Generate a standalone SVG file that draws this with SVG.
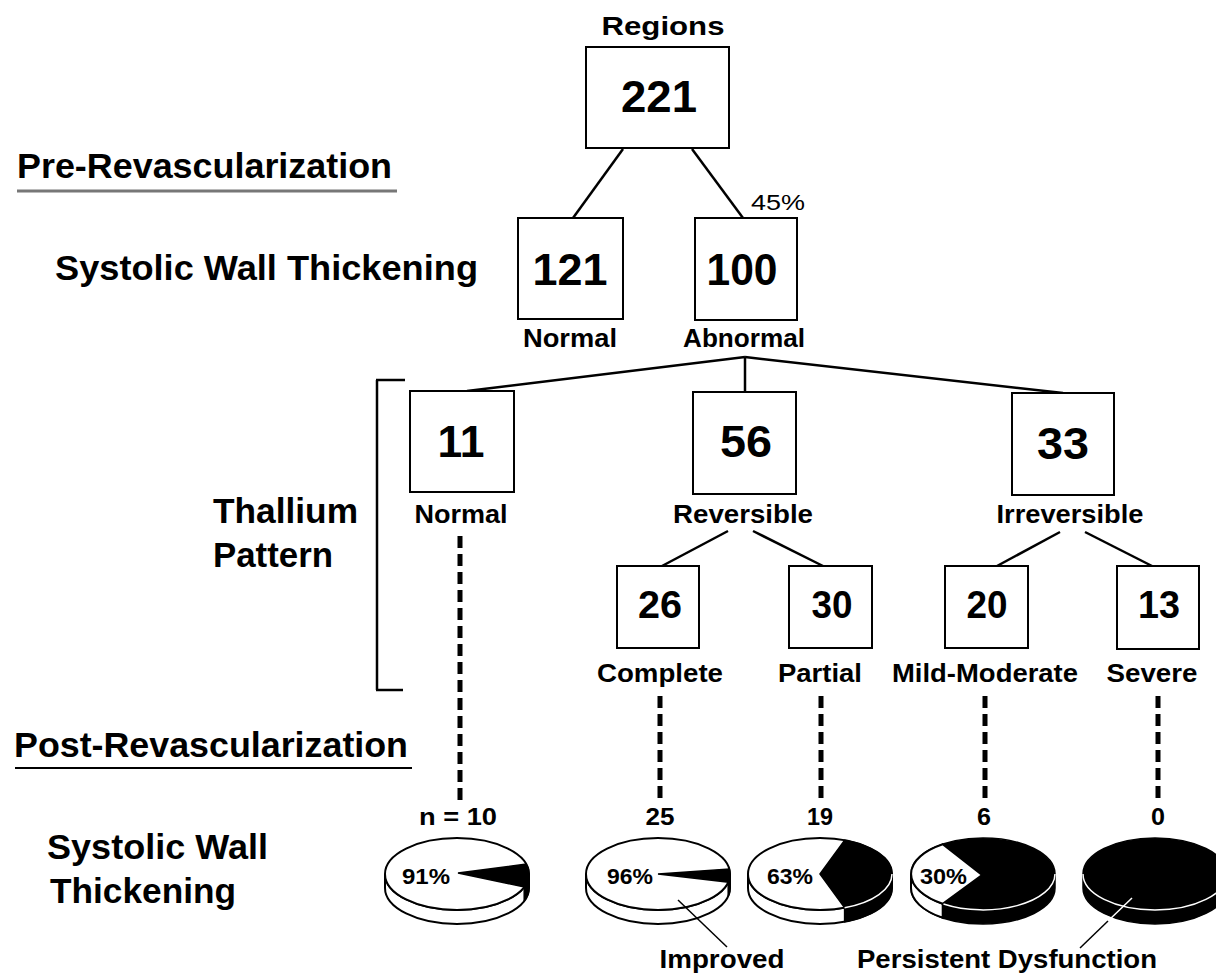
<svg xmlns="http://www.w3.org/2000/svg" width="1216" height="979" viewBox="0 0 1216 979">
<style>
.t{font-family:"Liberation Sans",Arial,Helvetica,sans-serif;font-weight:bold;fill:#000}
.n{font-family:"Liberation Sans",Arial,Helvetica,sans-serif;font-weight:normal;fill:#000}
.m{text-anchor:middle}
.big{font-size:44px}
.sm{font-size:38px}
.lab{font-size:25px}
.head{font-size:35px}
.cnt{font-size:23px}
.pct{font-size:22px}
.box{fill:#fff;stroke:#000;stroke-width:2}
.ln{stroke:#000;stroke-width:2.5;fill:none}
.dash{stroke:#000;stroke-width:5;stroke-dasharray:12 6;fill:none}
.pw{fill:#fff;stroke:#000;stroke-width:2}
.pb{fill:#000;stroke:#000;stroke-width:1.5}
.edge{fill:none;stroke:#fff;stroke-width:1.5}
</style>
<rect width="1216" height="979" fill="#fff"/>

<g id="section-labels">
<text class="t head" x="17" y="178" textLength="375" lengthAdjust="spacingAndGlyphs">Pre-Revascularization</text>
<line x1="17" y1="191" x2="397" y2="191" stroke="#777" stroke-width="3"/>
<text class="t head" x="55" y="280" textLength="423" lengthAdjust="spacingAndGlyphs">Systolic Wall Thickening</text>
<text class="t head" x="213" y="523" textLength="145" lengthAdjust="spacingAndGlyphs">Thallium</text>
<text class="t head" x="213" y="567" textLength="120" lengthAdjust="spacingAndGlyphs">Pattern</text>
<line x1="377" y1="380" x2="377" y2="690" class="ln" stroke-width="2"/>
<line x1="376" y1="380" x2="405" y2="380" class="ln" stroke-width="2"/>
<line x1="376" y1="690" x2="403" y2="690" class="ln" stroke-width="2"/>
<text class="t head" x="14" y="757" textLength="394" lengthAdjust="spacingAndGlyphs">Post-Revascularization</text>
<line x1="15" y1="768" x2="412" y2="768" stroke="#000" stroke-width="2"/>
<text class="t head" x="47" y="859" textLength="221" lengthAdjust="spacingAndGlyphs">Systolic Wall</text>
<text class="t head" x="50" y="903" textLength="186" lengthAdjust="spacingAndGlyphs">Thickening</text>
</g>

<g id="connectors">
<line class="ln" x1="623" y1="149" x2="573" y2="218"/>
<line class="ln" x1="692" y1="149" x2="743" y2="218"/>
<line class="ln" x1="745" y1="357" x2="467" y2="391"/>
<line class="ln" x1="745" y1="357" x2="745" y2="392"/>
<line class="ln" x1="745" y1="357" x2="1063" y2="393"/>
<line class="ln" x1="728" y1="531" x2="662" y2="566"/>
<line class="ln" x1="753" y1="531" x2="823" y2="566"/>
<line class="ln" x1="1060" y1="532" x2="997" y2="566"/>
<line class="ln" x1="1085" y1="532" x2="1152" y2="566"/>
<line class="dash" x1="460" y1="536" x2="460" y2="800"/>
<line class="dash" x1="660" y1="696" x2="660" y2="800"/>
<line class="dash" x1="821" y1="696" x2="821" y2="800"/>
<line class="dash" x1="985" y1="696" x2="985" y2="800"/>
<line class="dash" x1="1158" y1="696" x2="1158" y2="800"/>
</g>

<g id="n221">
<text class="t m" x="663" y="35" font-size="25" textLength="123" lengthAdjust="spacingAndGlyphs">Regions</text>
<rect class="box" x="586" y="47" width="143" height="101"/>
<text class="t m big" x="659" y="112" textLength="76" lengthAdjust="spacingAndGlyphs">221</text>
</g>
<g id="n121">
<rect class="box" x="518" y="218" width="105" height="101"/>
<text class="t m big" x="570" y="285" textLength="75" lengthAdjust="spacingAndGlyphs">121</text>
<text class="t m lab" x="570" y="347" textLength="94" lengthAdjust="spacingAndGlyphs">Normal</text>
</g>
<g id="n100">
<text class="n" x="751" y="210" font-size="22" textLength="54" lengthAdjust="spacingAndGlyphs">45%</text>
<rect class="box" x="695" y="218" width="102" height="102"/>
<text class="t m big" x="742" y="285" textLength="71" lengthAdjust="spacingAndGlyphs">100</text>
<text class="t m lab" x="744" y="347" textLength="122" lengthAdjust="spacingAndGlyphs">Abnormal</text>
</g>
<g id="n11">
<rect class="box" x="410" y="391" width="104" height="101"/>
<text class="t m big" x="461" y="457" textLength="47" lengthAdjust="spacingAndGlyphs">11</text>
<text class="t m lab" x="461" y="523" textLength="93" lengthAdjust="spacingAndGlyphs">Normal</text>
</g>
<g id="n56">
<rect class="box" x="693" y="392" width="103" height="102"/>
<text class="t m big" x="746" y="457" textLength="52" lengthAdjust="spacingAndGlyphs">56</text>
<text class="t m lab" x="743" y="523" textLength="140" lengthAdjust="spacingAndGlyphs">Reversible</text>
</g>
<g id="n33">
<rect class="box" x="1012" y="393" width="102" height="102"/>
<text class="t m big" x="1063" y="459" textLength="52" lengthAdjust="spacingAndGlyphs">33</text>
<text class="t m lab" x="1070" y="523" textLength="147" lengthAdjust="spacingAndGlyphs">Irreversible</text>
</g>
<g id="n26">
<rect class="box" x="617" y="566" width="82" height="82"/>
<text class="t m sm" x="660" y="618" textLength="44" lengthAdjust="spacingAndGlyphs">26</text>
<text class="t m lab" x="660" y="682" textLength="126" lengthAdjust="spacingAndGlyphs">Complete</text>
</g>
<g id="n30">
<rect class="box" x="789" y="566" width="83" height="82"/>
<text class="t m sm" x="832" y="618" textLength="41" lengthAdjust="spacingAndGlyphs">30</text>
<text class="t m lab" x="820" y="682" textLength="84" lengthAdjust="spacingAndGlyphs">Partial</text>
</g>
<g id="n20">
<rect class="box" x="945" y="566" width="83" height="82"/>
<text class="t m sm" x="987" y="618" textLength="41" lengthAdjust="spacingAndGlyphs">20</text>
<text class="t m lab" x="985" y="682" textLength="186" lengthAdjust="spacingAndGlyphs">Mild-Moderate</text>
</g>
<g id="n13">
<rect class="box" x="1117" y="566" width="82" height="83"/>
<text class="t m sm" x="1159" y="618" textLength="42" lengthAdjust="spacingAndGlyphs">13</text>
<text class="t m lab" x="1152" y="682" textLength="91" lengthAdjust="spacingAndGlyphs">Severe</text>
</g>

<g id="pie1">
<text class="t m cnt" x="458" y="825" textLength="78" lengthAdjust="spacingAndGlyphs">n = 10</text>
<path class="pw" d="M385,874 L385,888 A72 36 0 0 0 529,888 L529,874 A72 36 0 0 1 385,874 Z"/>
<ellipse class="pw" cx="457" cy="874" rx="72" ry="36"/>
<path class="pb" d="M458,873 L526.2,864.1 A72 36 0 0 1 524.2,886.9 Z"/>
<path class="pb" d="M529,874 L529,888 A72 36 0 0 1 524.2,900.9 L524.2,886.9 A72 36 0 0 0 529,874 Z"/>
<text class="t pct" x="402" y="884" textLength="48" lengthAdjust="spacingAndGlyphs">91%</text>
</g>
<g id="pie2">
<text class="t m cnt" x="660" y="825" textLength="29" lengthAdjust="spacingAndGlyphs">25</text>
<path class="pw" d="M586,874 L586,888 A72 36 0 0 0 730,888 L730,874 A72 36 0 0 1 586,874 Z"/>
<ellipse class="pw" cx="658" cy="874" rx="72" ry="36"/>
<path class="pb" d="M658,874 L729.3,869 A72 36 0 0 1 728.2,882.1 Z"/>
<path class="pb" d="M730,874 L730,888 A72 36 0 0 1 728.2,896.1 L728.2,882.1 A72 36 0 0 0 730,874 Z"/>
<text class="t pct" x="607" y="884" textLength="46" lengthAdjust="spacingAndGlyphs">96%</text>
</g>
<g id="pie3">
<text class="t m cnt" x="820" y="825" textLength="26" lengthAdjust="spacingAndGlyphs">19</text>
<path class="pw" d="M748,874 L748,888 A72 36 0 0 0 892,888 L892,874 A72 36 0 0 1 748,874 Z"/>
<ellipse class="pw" cx="820" cy="874" rx="72" ry="36"/>
<path class="pb" d="M892,874 L892,888 A72 36 0 0 1 844.6,921.8 L844.6,907.8 A72 36 0 0 0 892,874 Z"/>
<path class="pb" d="M820,874 L844.6,840.2 A72 36 0 0 1 844.6,907.8 Z"/>
<path class="edge" d="M892,874 A72 36 0 0 1 844.6,907.8"/>
<text class="t pct" x="767" y="884" textLength="46" lengthAdjust="spacingAndGlyphs">63%</text>
</g>
<g id="pie4">
<text class="t m cnt" x="984" y="825" textLength="14" lengthAdjust="spacingAndGlyphs">6</text>
<path class="pb" d="M911,874 L911,888 A72 36 0 0 0 1055,888 L1055,874 A72 36 0 0 1 911,874 Z"/>
<ellipse class="pb" cx="983" cy="874" rx="72" ry="36"/>
<path class="pw" d="M942.7,903.8 L942.7,917.8 A72 36 0 0 1 911,888 L911,874 A72 36 0 0 0 942.7,903.8 Z"/>
<path class="pw" d="M982,875 L942.7,903.8 A72 36 0 0 1 942.7,844.2 Z"/>
<path class="edge" d="M1055,874 A72 36 0 0 1 943.5,904"/>
<text class="t pct" x="920" y="884" textLength="47" lengthAdjust="spacingAndGlyphs">30%</text>
</g>
<g id="pie5">
<text class="t m cnt" x="1158" y="825" textLength="14" lengthAdjust="spacingAndGlyphs">0</text>
<path class="pb" d="M1083,874 L1083,888 A72 36 0 0 0 1227,888 L1227,874 A72 36 0 0 1 1083,874 Z"/>
<ellipse class="pb" cx="1155" cy="874" rx="72" ry="36"/>
<path class="edge" d="M1227,874 A72 36 0 0 1 1083,874"/>
</g>

<g id="callouts">
<line x1="678" y1="900" x2="727" y2="947" stroke="#000" stroke-width="1.5"/>
<text class="t m lab" x="722" y="968" textLength="125" lengthAdjust="spacingAndGlyphs">Improved</text>
<line x1="1132" y1="898" x2="1108" y2="921" stroke="#fff" stroke-width="1.5"/>
<line x1="1108" y1="921" x2="1080" y2="948" stroke="#000" stroke-width="1.5"/>
<text class="t lab" x="857" y="968" textLength="300" lengthAdjust="spacingAndGlyphs">Persistent Dysfunction</text>
</g>
</svg>
